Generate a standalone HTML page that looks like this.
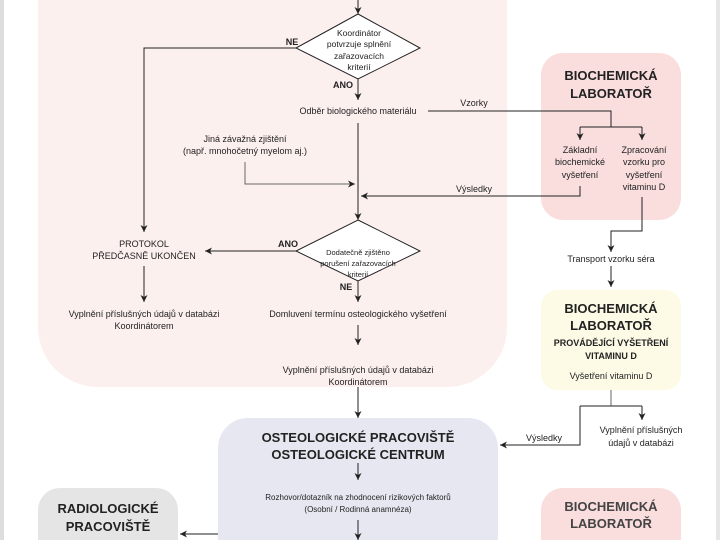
<!DOCTYPE html>
<html><head><meta charset="utf-8"><style>
html,body{margin:0;padding:0;background:#fff;width:720px;height:540px;overflow:hidden}
svg{display:block;font-family:"Liberation Sans",sans-serif}
</style></head><body>
<svg width="720" height="540" viewBox="0 0 720 540" xmlns="http://www.w3.org/2000/svg">
<defs><marker id="a" markerWidth="8" markerHeight="8" refX="7" refY="4" orient="auto" markerUnits="userSpaceOnUse"><path d="M0,0.5 L7,4 L0,7.5 L2,4 Z" fill="#222"/></marker></defs>
<rect x="0" y="0" width="720" height="540" fill="#fff"/>
<rect x="0" y="0" width="4" height="540" fill="#ddd"/>
<rect x="716" y="0" width="4" height="540" fill="#e6e6e6"/>
<rect x="38" y="-80" width="469" height="467" rx="60" fill="#fcf0ef"/>
<rect x="541" y="53" width="140" height="167" rx="22" fill="#f9dedd"/>
<rect x="541" y="290" width="140" height="100" rx="16" fill="#fdfbe6"/>
<rect x="218" y="418" width="280" height="122" rx="30" fill="#e7e7f1"/>
<rect x="38" y="488" width="140" height="52" rx="22" fill="#e5e5e5"/>
<rect x="541" y="488" width="140" height="52" rx="22" fill="#f9dedd"/>
<rect x="218" y="500" width="280" height="40" fill="#e7e7f1"/>
<rect x="38" y="515" width="140" height="25" fill="#e5e5e5"/>
<rect x="541" y="515" width="140" height="25" fill="#f9dedd"/>
<g stroke="#222" stroke-width="1" fill="none">
<line x1="358" y1="0" x2="358" y2="14" marker-end="url(#a)"/>
<polygon points="358,14 420,48 358,79 296,48" fill="#fff"/>
<polyline points="296,48 144,48 144,232" marker-end="url(#a)"/>
<line x1="358" y1="79" x2="358" y2="100" marker-end="url(#a)"/>
<polyline points="428,111 611,111 611,127"/>
<line x1="580" y1="127" x2="642" y2="127"/>
<line x1="580" y1="127" x2="580" y2="140" marker-end="url(#a)"/>
<line x1="642" y1="127" x2="642" y2="140" marker-end="url(#a)"/>
<line x1="358" y1="123" x2="358" y2="220" marker-end="url(#a)"/>
<polyline points="245,162 245,184 355,184" marker-end="url(#a)" stroke="#666"/>
<polyline points="580,186 580,196 361,196" marker-end="url(#a)"/>
<polygon points="358,220 420,251 358,281 296,251" fill="#fff"/>
<line x1="296" y1="251" x2="205" y2="251" marker-end="url(#a)"/>
<line x1="144" y1="266" x2="144" y2="302" marker-end="url(#a)"/>
<line x1="358" y1="281" x2="358" y2="302" marker-end="url(#a)"/>
<line x1="358" y1="325" x2="358" y2="345" marker-end="url(#a)"/>
<line x1="358" y1="387" x2="358" y2="418" marker-end="url(#a)"/>
<polyline points="642,197 642,231 611,231 611,252" marker-end="url(#a)"/>
<line x1="611" y1="266" x2="611" y2="287" marker-end="url(#a)"/>
<polyline points="611,390 611,406" stroke="#666"/>
<line x1="580" y1="406" x2="642" y2="406"/>
<line x1="642" y1="406" x2="642" y2="420" marker-end="url(#a)"/>
<polyline points="580,406 580,445 500,445" marker-end="url(#a)"/>
<line x1="358" y1="463" x2="358" y2="480" marker-end="url(#a)"/>
<line x1="358" y1="520" x2="358" y2="540" marker-end="url(#a)"/>
<line x1="218" y1="534" x2="180" y2="534" marker-end="url(#a)"/>
</g>
<g font-size="9" fill="#222" text-anchor="middle">
<text x="359" y="36" font-size="8.5">Koordinátor</text>
<text x="359" y="47" font-size="8.5">potvrzuje splnění</text>
<text x="359" y="59" font-size="8.5">zařazovacích</text>
<text x="359" y="70" font-size="8.5">kriterií</text>
<text x="358" y="255" font-size="7.5">Dodatečně zjištěno</text>
<text x="358" y="266" font-size="7.5">porušení zařazovacích</text>
<text x="358" y="277" font-size="7.5">kriterií</text>
<text x="358" y="114">Odběr biologického materiálu</text>
<text x="474" y="106">Vzorky</text>
<text x="474" y="192">Výsledky</text>
<text x="245" y="142">Jiná závažná zjištění</text>
<text x="245" y="154">(např. mnohočetný myelom aj.)</text>
<text x="144" y="247">PROTOKOL</text>
<text x="144" y="259">PŘEDČASNĚ UKONČEN</text>
<text x="144" y="317">Vyplnění příslušných údajů v databázi</text>
<text x="144" y="329">Koordinátorem</text>
<text x="358" y="317">Domluvení termínu osteologického vyšetření</text>
<text x="358" y="373">Vyplnění  příslušných údajů v databázi</text>
<text x="358" y="385">Koordinátorem</text>
<text x="580" y="153">Základní</text>
<text x="580" y="165">biochemické</text>
<text x="580" y="178">vyšetření</text>
<text x="644" y="153">Zpracování</text>
<text x="644" y="165">vzorku pro</text>
<text x="644" y="178">vyšetření</text>
<text x="644" y="190">vitaminu D</text>
<text x="611" y="262">Transport vzorku séra</text>
<text x="611" y="379">Vyšetření vitaminu D</text>
<text x="544" y="441">Výsledky</text>
<text x="641" y="433">Vyplnění příslušných</text>
<text x="641" y="446">údajů v databázi</text>
<text x="358" y="500" font-size="8">Rozhovor/dotazník na zhodnocení rizikových faktorů</text>
<text x="358" y="512" font-size="8">(Osobní / Rodinná anamnéza)</text>
</g>
<g font-size="9" font-weight="bold" fill="#222" text-anchor="middle">
<text x="292" y="45">NE</text>
<text x="343" y="88">ANO</text>
<text x="288" y="247">ANO</text>
<text x="346" y="290">NE</text>
</g>
<g font-size="13" font-weight="bold" fill="#222" text-anchor="middle">
<text x="611" y="80">BIOCHEMICKÁ</text>
<text x="611" y="98">LABORATOŘ</text>
<text x="611" y="313">BIOCHEMICKÁ</text>
<text x="611" y="330">LABORATOŘ</text>
<text x="611" y="346" font-size="9">PROVÁDĚJÍCÍ VYŠETŘENÍ</text>
<text x="611" y="359" font-size="9">VITAMINU D</text>
<text x="358" y="442">OSTEOLOGICKÉ PRACOVIŠTĚ</text>
<text x="358" y="459">OSTEOLOGICKÉ CENTRUM</text>
<text x="108" y="513">RADIOLOGICKÉ</text>
<text x="108" y="531">PRACOVIŠTĚ</text>
<text x="611" y="511" fill="#444">BIOCHEMICKÁ</text>
<text x="611" y="528" fill="#444">LABORATOŘ</text>
</g>
</svg>
</body></html>
